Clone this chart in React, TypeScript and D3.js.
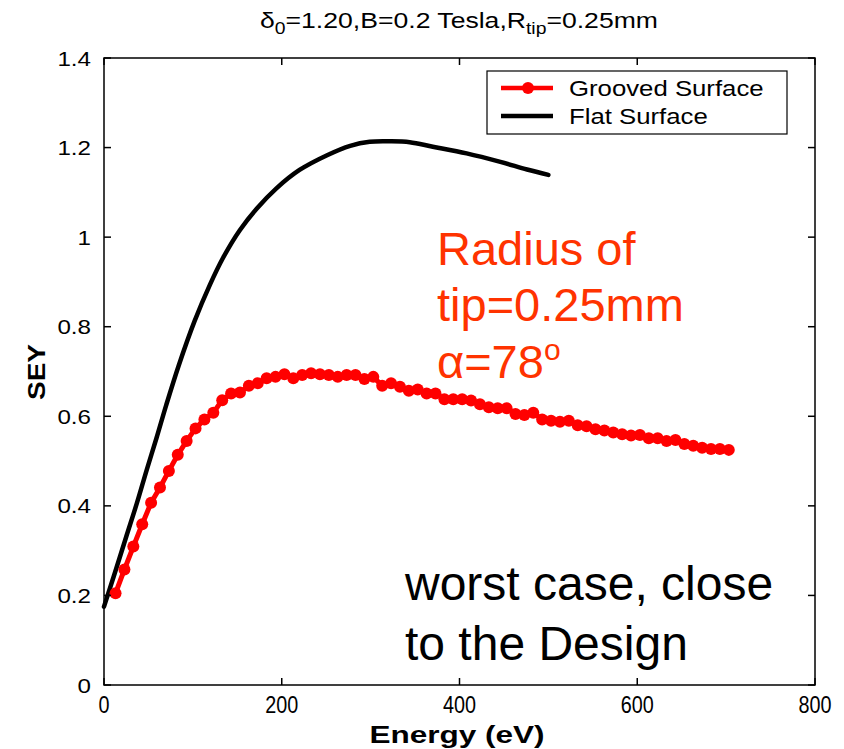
import { useRef, useEffect } from 'react';
import * as d3 from 'd3';

// grooved surface (red, with markers)
const groovedEnergy = [
  13, 23, 33, 43, 53, 63, 73, 83, 93, 103, 113, 123, 133, 143, 153, 163, 173, 183, 193, 203,
  213, 223, 233, 243, 253, 263, 273, 283, 293, 303, 313, 323, 333, 343, 353, 363, 373, 383, 393, 403,
  413, 423, 433, 443, 453, 463, 473, 483, 493, 503, 513, 523, 533, 543, 553, 563, 573, 583, 593, 603,
  613, 623, 633, 643, 653, 663, 673, 683, 693, 703,
];
const groovedSEY = [
  0.205, 0.258, 0.309, 0.359, 0.407, 0.441, 0.478, 0.514, 0.545, 0.573,
  0.593, 0.608, 0.636, 0.651, 0.653, 0.668, 0.674, 0.685, 0.688, 0.694,
  0.685, 0.692, 0.696, 0.694, 0.692, 0.688, 0.692, 0.692, 0.683, 0.688,
  0.668, 0.674, 0.666, 0.657, 0.66, 0.651, 0.651, 0.638, 0.638, 0.638,
  0.635, 0.627, 0.62, 0.618, 0.618, 0.605, 0.603, 0.608, 0.593, 0.59,
  0.588, 0.59, 0.58, 0.578, 0.571, 0.568, 0.564, 0.56, 0.557, 0.558,
  0.551, 0.551, 0.545, 0.547, 0.538, 0.534, 0.53, 0.527, 0.527, 0.525,
];

// flat surface (black, smooth)
const flatEnergy = [0, 12, 25, 37, 48, 59, 70, 84, 102, 119, 134, 153, 172, 194, 220, 251, 277, 299, 322, 344, 370, 408, 446, 476, 500];
const flatSEY = [0.175, 0.249, 0.331, 0.406, 0.48, 0.551, 0.625, 0.713, 0.813, 0.893, 0.954, 1.016, 1.064, 1.109, 1.15, 1.183, 1.204, 1.213, 1.214, 1.212, 1.202, 1.187, 1.168, 1.151, 1.139];

const xTicks = [0, 200, 400, 600, 800];
const yTicks = [0, 0.2, 0.4, 0.6, 0.8, 1, 1.2, 1.4];
const seriesNames = ['Grooved Surface', 'Flat Surface'];

const FONT = '"Liberation Sans", Arial, sans-serif';
const ANNOT = '#ff3300';

// stretch/squeeze a text horizontally by a factor of its own rendered width
function stretch(sel: any, k: number) {
  sel.each(function (this: SVGTextElement) {
    const w = this.getComputedTextLength();
    d3.select(this).attr('textLength', w * k).attr('lengthAdjust', 'spacingAndGlyphs');
  });
}

export default function App() {
  const svgRef = useRef<SVGSVGElement>(null);

  useEffect(() => {
    const svg = d3.select(svgRef.current);
    svg.selectAll('*').remove();

    const left = 104, right = 815, top = 58, bottom = 685;
    const x = d3.scaleLinear().domain([0, 800]).range([left, right]);
    const y = d3.scaleLinear().domain([0, 1.4]).range([bottom, top]);

    svg.append('rect').attr('width', 844).attr('height', 749).attr('fill', '#fff');

    // title with subscripts
    const title = svg.append('text')
      .attr('x', 459).attr('y', 28)
      .attr('text-anchor', 'middle')
      .style('font-family', FONT).style('font-size', '22px')
      .attr('textLength', 398).attr('lengthAdjust', 'spacingAndGlyphs');
    title.append('tspan').text('δ');
    title.append('tspan').attr('dy', 6).style('font-size', '16px').text('0');
    title.append('tspan').attr('dy', -6).text('=1.20,B=0.2 Tesla,R');
    title.append('tspan').attr('dy', 6).style('font-size', '16px').text('tip');
    title.append('tspan').attr('dy', -6).text('=0.25mm');

    // data lines
    const flatLine = d3.line<number>()
      .x((_, i) => x(flatEnergy[i]))
      .y(d => y(d))
      .curve(d3.curveCatmullRom);
    svg.append('path')
      .datum(flatSEY)
      .attr('d', flatLine)
      .attr('fill', 'none')
      .attr('stroke', '#000')
      .attr('stroke-width', 4.5)
      .attr('stroke-linejoin', 'round')
      .attr('stroke-linecap', 'round');

    const grooveLine = d3.line<number>()
      .x((_, i) => x(groovedEnergy[i]))
      .y(d => y(d));
    svg.append('path')
      .datum(groovedSEY)
      .attr('d', grooveLine)
      .attr('fill', 'none')
      .attr('stroke', '#ff0000')
      .attr('stroke-width', 5)
      .attr('stroke-linejoin', 'round');
    svg.append('g')
      .selectAll('circle')
      .data(groovedSEY)
      .join('circle')
      .attr('cx', (_, i) => x(groovedEnergy[i]))
      .attr('cy', d => y(d))
      .attr('r', 6)
      .attr('fill', '#ff0000');

    // axes box + inward ticks on all four sides
    const axes = svg.append('g').attr('stroke', '#000').attr('stroke-width', 1.5);
    axes.append('rect')
      .attr('x', left).attr('y', top)
      .attr('width', right - left).attr('height', bottom - top)
      .attr('fill', 'none');
    const tl = 7;
    xTicks.forEach(t => {
      axes.append('line').attr('x1', x(t)).attr('x2', x(t)).attr('y1', bottom).attr('y2', bottom - tl);
      axes.append('line').attr('x1', x(t)).attr('x2', x(t)).attr('y1', top).attr('y2', top + tl);
    });
    yTicks.forEach(t => {
      axes.append('line').attr('x1', left).attr('x2', left + tl).attr('y1', y(t)).attr('y2', y(t));
      axes.append('line').attr('x1', right).attr('x2', right - tl).attr('y1', y(t)).attr('y2', y(t));
    });

    // tick labels
    const xl = svg.append('g')
      .selectAll('text')
      .data(xTicks)
      .join('text')
      .attr('x', d => x(d))
      .attr('y', 713)
      .attr('text-anchor', 'middle')
      .style('font-family', FONT).style('font-size', '23px')
      .text(d => d3.format('d')(d));
    stretch(xl, 0.86);

    const yl = svg.append('g')
      .selectAll('text')
      .data(yTicks)
      .join('text')
      .attr('x', 91)
      .attr('y', d => y(d) + 7.5)
      .attr('text-anchor', 'end')
      .style('font-family', FONT).style('font-size', '21px')
      .text(d => String(+d.toFixed(1)));
    stretch(yl, 1.15);

    // axis titles
    svg.append('text')
      .attr('x', 457).attr('y', 743)
      .attr('text-anchor', 'middle')
      .style('font-family', FONT).style('font-size', '24px').style('font-weight', 'bold')
      .attr('textLength', 175).attr('lengthAdjust', 'spacingAndGlyphs')
      .text('Energy (eV)');
    svg.append('text')
      .attr('transform', 'translate(45, 372) rotate(-90)')
      .attr('text-anchor', 'middle')
      .style('font-family', FONT).style('font-size', '24px').style('font-weight', 'bold')
      .attr('textLength', 56).attr('lengthAdjust', 'spacingAndGlyphs')
      .text('SEY');

    // legend
    const lg = svg.append('g');
    lg.append('rect')
      .attr('x', 487).attr('y', 71).attr('width', 300).attr('height', 63)
      .attr('fill', '#fff').attr('stroke', '#000').attr('stroke-width', 1.2);
    lg.append('line').attr('x1', 501).attr('x2', 553).attr('y1', 88).attr('y2', 88)
      .attr('stroke', '#ff0000').attr('stroke-width', 4.5);
    lg.append('circle').attr('cx', 528).attr('cy', 88).attr('r', 6).attr('fill', '#ff0000');
    lg.append('line').attr('x1', 501).attr('x2', 553).attr('y1', 116).attr('y2', 116)
      .attr('stroke', '#000').attr('stroke-width', 4.5);
    const lt = lg.selectAll('text.lbl')
      .data(seriesNames)
      .join('text')
      .attr('class', 'lbl')
      .attr('x', 569).attr('y', (_, i) => 96 + i * 28)
      .style('font-family', FONT).style('font-size', '22px')
      .text(d => d);
    stretch(lt, 1.17);

    // annotations
    const ann = svg.append('g').style('font-family', FONT).style('font-size', '47px').attr('fill', ANNOT);
    ann.append('text').attr('x', 437).attr('y', 265).text('Radius of');
    ann.append('text').attr('x', 437).attr('y', 321).text('tip=0.25mm');
    const alpha = ann.append('text').attr('x', 437).attr('y', 378);
    alpha.append('tspan').text('α=78');
    alpha.append('tspan').attr('dy', -18).style('font-size', '30px').text('o');

    const note = svg.append('g').style('font-family', FONT).style('font-size', '48px').attr('fill', '#000');
    note.append('text').attr('x', 405).attr('y', 600).text('worst case, close');
    note.append('text').attr('x', 405).attr('y', 660).text('to the Design');
  }, []);

  return (
    <svg
      ref={svgRef}
      width={844}
      height={749}
      style={{ position: 'absolute', left: 0, top: 0, display: 'block' }}
    />
  );
}
